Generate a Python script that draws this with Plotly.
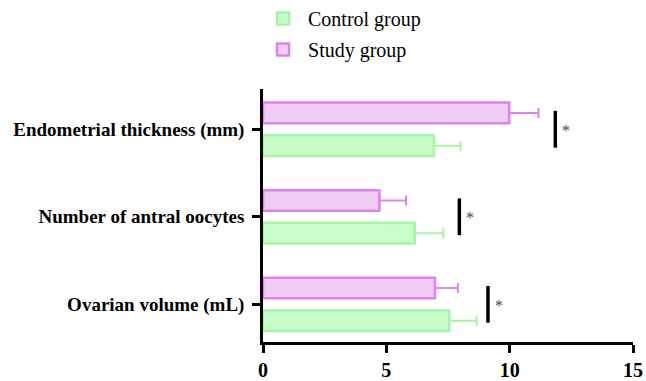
import plotly.graph_objects as go

categories = ["Ovarian volume (mL)", "Number of antral oocytes", "Endometrial thickness (mm)"]
control_mean = [7.55, 6.15, 6.93]
control_sd = [1.11, 1.16, 1.08]
study_mean = [6.97, 4.72, 9.98]
study_sd = [0.93, 1.08, 1.19]
sig_x = [9.12, 7.96, 11.85]
sig_label = ["*", "*", "*"]
x_ticks = [0, 5, 10, 15]

green_line = "#a6f5a6"
green_fill = "#c8fcc8"
purple_line = "#df82ef"
purple_fill = "#efcdf5"
font_family = "Liberation Serif, Times New Roman, serif"

fig = go.Figure()
fig.add_trace(go.Bar(
    y=categories, x=control_mean, orientation="h", name="Control group",
    legendgroup="c",
    marker=dict(color=green_fill, line=dict(color=green_line, width=2.5)),
    error_x=dict(type="data", array=control_sd, arrayminus=[0] * 3, symmetric=False,
                 color=green_line, thickness=2, width=5),
))
fig.add_trace(go.Bar(
    y=categories, x=study_mean, orientation="h", name="Study group",
    legendgroup="s",
    marker=dict(color=purple_fill, line=dict(color=purple_line, width=2.5)),
    error_x=dict(type="data", array=study_sd, arrayminus=[0] * 3, symmetric=False,
                 color=purple_line, thickness=2, width=5),
))

for i, (sx, lab) in enumerate(zip(sig_x, sig_label)):
    fig.add_shape(type="line", xref="x", yref="y", x0=sx, x1=sx, y0=i - 0.21, y1=i + 0.21,
                  line=dict(color="black", width=3.5))
    fig.add_annotation(x=sx, y=i, xref="x", yref="y", text=lab, showarrow=False,
                       xanchor="left", xshift=5, yshift=-1,
                       font=dict(family=font_family, size=16, color="#444444"))

fig.update_layout(
    template="none",
    width=646, height=381,
    margin=dict(l=263, r=13, t=89, b=39, pad=0, autoexpand=False),
    paper_bgcolor="white", plot_bgcolor="white",
    barmode="group", bargap=0.252, bargroupgap=0.37,
    font=dict(family=font_family, color="black"),
    showlegend=True,
    legend=dict(x=-0.0135, y=1.356, xanchor="left", yanchor="top", traceorder="grouped",
                itemwidth=40,
                tracegroupgap=2, font=dict(size=20, family=font_family, color="black"),
                bgcolor="rgba(0,0,0,0)", borderwidth=0),
    xaxis=dict(range=[0, 15], tickvals=x_ticks, showgrid=False, zeroline=False,
               automargin=False,
               showline=True, linecolor="black", linewidth=2.5,
               ticks="outside", ticklen=8, tickwidth=2.5, tickcolor="black",
               tickfont=dict(size=20, family=font_family, color="black", weight="bold")),
    yaxis=dict(type="category", categoryorder="array", categoryarray=categories,
               automargin=False,
               range=[-0.43, 2.46], showgrid=False, zeroline=False,
               showline=True, linecolor="black", linewidth=2.5,
               ticks="outside", ticklen=8, tickwidth=2.5, tickcolor="black",
               ticklabelstandoff=4,
               tickfont=dict(size=19, family=font_family, color="black", weight="bold")),
)

fig.write_html("out.html")
